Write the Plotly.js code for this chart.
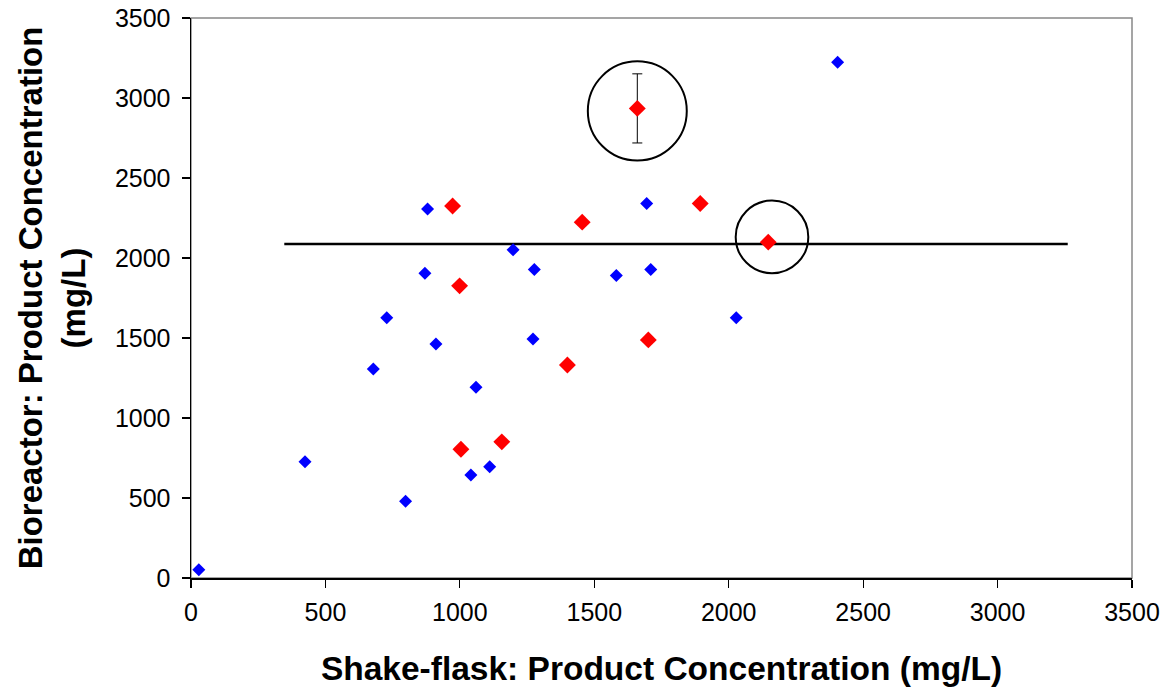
<!DOCTYPE html>
<html>
<head>
<meta charset="utf-8">
<script src="https://cdn.plot.ly/plotly-3.0.1.min.js"></script>
<style>html,body{margin:0;padding:0;background:#fff;}#chart{width:1164px;height:691px;}</style>
</head>
<body>
<div id="chart"></div>
<script>
// Blue series (shake-flask vs bioreactor)
var blueX = [880, 870, 1198, 1277, 728, 911, 1272, 678, 1060, 424, 1041, 1111, 798, 29, 1695, 1582, 1710, 2028, 2405];
var blueY = [2306, 1905, 2051, 1928, 1627, 1463, 1494, 1306, 1192, 726, 643, 695, 480, 52, 2341, 1890, 1928, 1627, 3223];
// Red series
var redX = [973, 999, 1400, 1004, 1156, 1894, 1455, 2147, 1701];
var redY = [2325, 1826, 1331, 805, 851, 2341, 2224, 2099, 1488];
// Red point with error bar
var errX = [1660];
var errY = [2935];
var errVal = [216];
// Horizontal reference line
var refLineX = [347, 3261];
var refLineY = [2088, 2088];
// Highlight circles: [centerX, centerY, radiusX, radiusY]
var circleBig = [1660, 2919, 184, 310];
var circleSmall = [2161, 2132, 135, 227];
// Axis ticks
var tickVals = [0, 500, 1000, 1500, 2000, 2500, 3000, 3500];

var font = "Liberation Sans, Arial, sans-serif";

var traces = [
  {x: refLineX, y: refLineY, mode: 'lines', line: {color: '#000', width: 2.5}, hoverinfo: 'skip', showlegend: false},
  {x: blueX, y: blueY, mode: 'markers', marker: {symbol: 'diamond', size: 10, color: '#0000ff'}, showlegend: false},
  {x: redX, y: redY, mode: 'markers', marker: {symbol: 'diamond', size: 13, color: '#ff0000'}, showlegend: false},
  {x: errX, y: errY, mode: 'markers', marker: {symbol: 'diamond', size: 13, color: '#ff0000'},
   error_y: {type: 'data', array: errVal, visible: true, color: '#000', thickness: 1, width: 5}, showlegend: false}
];

function circ(c) {
  return {type: 'circle', xref: 'x', yref: 'y', x0: c[0] - c[2], x1: c[0] + c[2], y0: c[1] - c[3], y1: c[1] + c[3],
          line: {color: '#000', width: 2}};
}

var layout = {
  width: 1164, height: 691,
  margin: {l: 191, r: 32, t: 18, b: 113},
  paper_bgcolor: '#fff', plot_bgcolor: '#fff',
  font: {family: font, color: '#000'},
  xaxis: {
    range: [0, 3500], tickvals: tickVals, ticktext: tickVals.map(String),
    showgrid: false, zeroline: false, showline: true, linecolor: '#000', linewidth: 1.5,
    ticks: 'outside', ticklen: 8, tickcolor: '#000', tickwidth: 1.2, ticklabelstandoff: 3,
    tickfont: {family: font, size: 25, color: '#000'},
    title: {text: '<b>Shake-flask: Product Concentration (mg/L)</b>', font: {family: font, size: 33.5, color: '#000'}, standoff: 32}
  },
  yaxis: {
    range: [0, 3500], tickvals: tickVals, ticktext: tickVals.map(String),
    showgrid: false, zeroline: false, showline: true, linecolor: '#000', linewidth: 1.5,
    ticks: 'outside', ticklen: 8, tickcolor: '#000', tickwidth: 1.2, ticklabelstandoff: 6,
    tickfont: {family: font, size: 25, color: '#000'},
    title: {text: '<b>Bioreactor: Product Concentration<br>(mg/L)</b>', font: {family: font, size: 33, color: '#000'}, standoff: 19}
  },
  shapes: [
    {type: 'rect', xref: 'paper', yref: 'paper', x0: 0, x1: 1, y0: 0, y1: 1, line: {color: '#888', width: 1.5}, layer: 'below'},
    circ(circleBig), circ(circleSmall)
  ]
};

Plotly.newPlot('chart', traces, layout, {displayModeBar: false, staticPlot: true});
</script>
</body>
</html>
